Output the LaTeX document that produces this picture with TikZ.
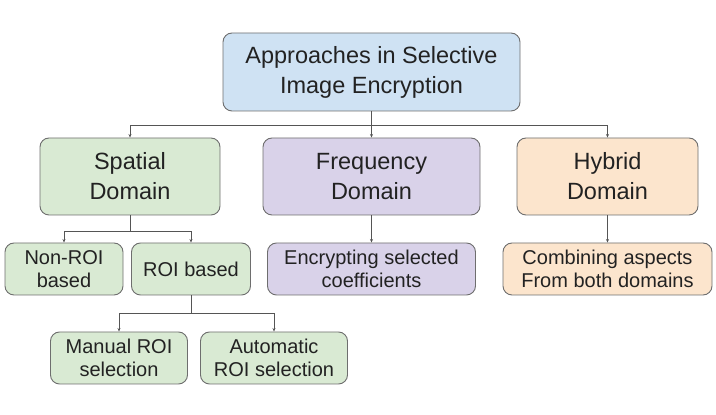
\documentclass[tikz,border=0pt]{standalone}
\usepackage{fontspec}
\setmainfont{Liberation Sans}
\usetikzlibrary{arrows.meta}
\definecolor{rootblue}{HTML}{CFE2F3}
\definecolor{spatialgreen}{HTML}{D9EAD3}
\definecolor{freqpurple}{HTML}{D9D2E9}
\definecolor{hybridorange}{HTML}{FCE5CD}
\definecolor{boxborder}{HTML}{6E6E6E}
\definecolor{linecolor}{HTML}{555555}
\definecolor{textcolor}{HTML}{222222}
\begin{document}
\begin{tikzpicture}
[x=1pt,y=1pt,
 boxdecorate/.style={draw=boxborder,line width=0.9pt,rounded corners=9pt,align=center,text=textcolor,inner sep=0pt},%
 bigdecorate/.style={boxdecorate,font=\fontsize{23.5}{30}\selectfont,minimum height=77pt},%
 smalldecorate/.style={boxdecorate,font=\fontsize{20}{23.5}\selectfont,minimum height=52pt},%
 linedecorate/.style={-{Stealth[length=3.5pt,width=3pt]},line width=0.8pt,draw=linecolor}]
\useasboundingbox (0,0) rectangle (716,415);
%% nodes or boxes
\node (root) at (371.5,343) [bigdecorate,fill=rootblue,minimum width=297pt,minimum height=78pt]
  {Approaches in Selective\\Image Encryption};
\foreach \nodename/\x/\w/\fillcolor/\label in {
  spatial/130/180/spatialgreen/{Spatial\\Domain},
  frequency/371.5/217/freqpurple/{Frequency\\Domain},
  hybrid/607.5/181/hybridorange/{Hybrid\\Domain}} {
  \node (\nodename) at (\x,238.5) [bigdecorate,fill=\fillcolor,minimum width=\w pt] {\label};
}
\foreach \nodename/\x/\y/\w/\fillcolor/\label in {
  nonroi/64/146/118/spatialgreen/{Non-ROI\\based},
  roi/191/146/119/spatialgreen/{ROI based},
  encrypting/371.5/146/208/freqpurple/{Encrypting selected\\coefficients},
  combining/607.5/146/209/hybridorange/{Combining aspects\\From both domains},
  manual/119/57/137/spatialgreen/{Manual ROI\\selection},
  automatic/274/57/147/spatialgreen/{Automatic\\ROI selection}} {
  \node (\nodename) at (\x,\y) [smalldecorate,fill=\fillcolor,minimum width=\w pt] {\label};
}
%% edges or lines
\foreach \endnode in {spatial, frequency, hybrid} {
  \draw[linedecorate] (root.south) -- ++(0,-14) -| (\endnode);
}
\foreach \endnode in {nonroi, roi} {
  \draw[linedecorate] (spatial.south) -- ++(0,-16) -| (\endnode);
}
\foreach \endnode in {manual, automatic} {
  \draw[linedecorate] (roi.south) -- ++(0,-18) -| (\endnode);
}
\draw[linedecorate] (frequency) -- (encrypting);
\draw[linedecorate] (hybrid) -- (combining);
\end{tikzpicture}
\end{document}
